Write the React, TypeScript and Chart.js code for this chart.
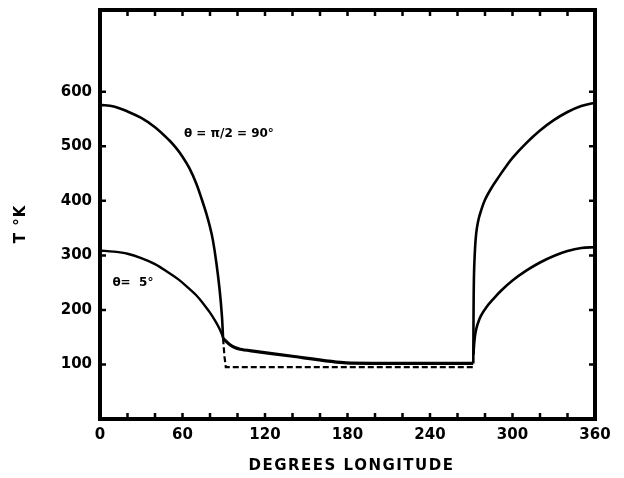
import React, { useEffect, useRef } from "react";
import { Chart, registerables } from "chart.js";

Chart.register(...registerables);

// ---- data ----
const X_TICKS = [0, 60, 120, 180, 240, 300, 360];
const X_MINOR = [20, 40, 60, 80, 100, 120, 140, 160, 180, 200, 220, 240, 260, 280, 300, 320, 340];
const Y_TICKS = [100, 200, 300, 400, 500, 600];

// theta = 90 deg, day side (left)
const UPPER_L_LON = [0, 10, 20, 30, 40, 50, 55, 60, 65, 70, 74, 77.3, 80, 82.1, 84.6, 87, 88.7, 89.5];
const UPPER_L_T = [576, 573, 564, 552, 535, 512, 498, 481, 460, 432, 403, 377, 352, 328, 287, 237, 188, 148];

// theta = 5 deg, day side (left)
const LOWER_L_LON = [0, 10, 20, 30, 40, 50, 57, 64, 70, 75, 80, 84, 87, 89.5];
const LOWER_L_T = [309, 307, 303, 295, 284, 268, 256, 241, 227, 212, 195, 179, 165, 150];

// night side, solid
const NIGHT_LON = [89.5, 91, 94, 98, 102, 110, 140, 179, 271.5];
const NIGHT_T = [148, 144, 137, 131, 128, 125, 115, 103, 102];

// night side, dashed
const DASH_LON = [89.5, 90.5, 91.5, 271.5];
const DASH_T = [148, 115, 95, 95];

// theta = 90 deg, day side (right)
const UPPER_R_LON = [271.5, 271.6, 271.75, 272, 272.5, 273.2, 274.1, 275.5, 277, 280, 285, 290, 295, 300, 310, 320, 330, 340, 350, 360];
const UPPER_R_T = [102, 160, 220, 265, 300, 330, 350, 368, 381, 402, 425, 444, 462, 479, 506, 529, 548, 563, 574, 580];

// theta = 5 deg, day side (right)
const LOWER_R_LON = [271.6, 272.2, 273, 274.5, 277, 281, 286, 292, 300, 310, 320, 330, 340, 350, 360];
const LOWER_R_T = [118, 140, 157, 173, 189, 205, 220, 236, 254, 272, 287, 299, 308, 313.5, 315];

const LABEL_90 = "θ = π/2 = 90°";
const LABEL_5 = "θ=  5°";
const X_TITLE = "DEGREES LONGITUDE";
const Y_TITLE = "T °K";

const FONT = '"DejaVu Sans", "Liberation Sans", sans-serif';

const zip = (xs: number[], ys: number[]) => xs.map((x, i) => ({ x, y: ys[i] }));

const framePlugin = {
  id: "frameAndMarks",
  afterDraw(chart: any) {
    const { ctx, chartArea, scales } = chart;
    const { left, right, top, bottom } = chartArea;
    const xs = scales.x;
    const ys = scales.y;
    ctx.save();
    ctx.strokeStyle = "#000";
    ctx.fillStyle = "#000";
    // inward tick marks
    ctx.lineWidth = 2.5;
    ctx.lineCap = "butt";
    X_MINOR.forEach((v) => {
      const px = xs.getPixelForValue(v);
      ctx.beginPath();
      ctx.moveTo(px, bottom);
      ctx.lineTo(px, bottom - 6);
      ctx.moveTo(px, top);
      ctx.lineTo(px, top + 6);
      ctx.stroke();
    });
    Y_TICKS.forEach((v) => {
      const py = ys.getPixelForValue(v);
      ctx.beginPath();
      ctx.moveTo(left, py);
      ctx.lineTo(left + 6, py);
      ctx.moveTo(right, py);
      ctx.lineTo(right - 6, py);
      ctx.stroke();
    });
    // frame
    ctx.lineWidth = 4;
    ctx.strokeRect(left, top, right - left, bottom - top);

    // curve labels
    ctx.font = `bold 12px ${FONT}`;
    ctx.textAlign = "left";
    ctx.textBaseline = "middle";
    ctx.fillText(LABEL_90, xs.getPixelForValue(61), ys.getPixelForValue(522));
    ctx.fillText(LABEL_5, xs.getPixelForValue(9), ys.getPixelForValue(250));

    // axis titles
    ctx.font = `bold 15px ${FONT}`;
    (ctx as any).letterSpacing = "1.5px";
    ctx.textAlign = "center";
    ctx.fillText(X_TITLE, (left + right) / 2 + 4, 466);
    ctx.translate(21, 224);
    ctx.rotate(-Math.PI / 2);
    (ctx as any).letterSpacing = "1px";
    ctx.fillText(Y_TITLE, 0, 0);
    ctx.restore();
  },
};

export default function App() {
  const ref = useRef<HTMLCanvasElement | null>(null);

  useEffect(() => {
    if (!ref.current) return;
    const base = {
      pointRadius: 0,
      borderColor: "#000",
      backgroundColor: "#000",
      fill: false,
      tension: 0.35,
    };
    const chart = new Chart(ref.current, {
      type: "line",
      data: {
        datasets: [
          { ...base, label: "upper-left", data: zip(UPPER_L_LON, UPPER_L_T), borderWidth: 2.6 },
          { ...base, label: "lower-left", data: zip(LOWER_L_LON, LOWER_L_T), borderWidth: 2.4 },
          { ...base, label: "night", data: zip(NIGHT_LON, NIGHT_T), borderWidth: 3.2, tension: 0.2 },
          {
            ...base,
            label: "night-dashed",
            data: zip(DASH_LON, DASH_T),
            borderWidth: 2.2,
            borderDash: [6, 3],
            tension: 0,
          },
          { ...base, label: "upper-right", data: zip(UPPER_R_LON, UPPER_R_T), borderWidth: 2.6 },
          { ...base, label: "lower-right", data: zip(LOWER_R_LON, LOWER_R_T), borderWidth: 2.6 },
        ],
      },
      options: {
        responsive: false,
        animation: false,
        events: [],
        layout: { padding: { left: 0, right: 29, top: 10, bottom: 0 } },
        plugins: {
          legend: { display: false },
          tooltip: { enabled: false },
          title: { display: false },
        },
        scales: {
          x: {
            type: "linear",
            min: 0,
            max: 360,
            afterBuildTicks: (s: any) => {
              s.ticks = X_TICKS.map((v) => ({ value: v }));
            },
            afterFit: (s: any) => {
              s.height = 59;
              s.paddingLeft = 0;
              s.paddingRight = 0;
            },
            grid: { display: false, drawTicks: false },
            border: { display: false },
            ticks: {
              color: "#000",
              padding: 7,
              maxRotation: 0,
              autoSkip: false,
              font: { family: FONT, size: 15, weight: "bold" },
            },
          },
          y: {
            type: "linear",
            min: 0,
            max: 750,
            afterBuildTicks: (s: any) => {
              s.ticks = Y_TICKS.map((v) => ({ value: v }));
            },
            afterFit: (s: any) => {
              s.width = 100;
              s.paddingTop = 0;
              s.paddingBottom = 0;
            },
            grid: { display: false, drawTicks: false },
            border: { display: false },
            ticks: {
              color: "#000",
              padding: 8,
              autoSkip: false,
              font: { family: FONT, size: 15, weight: "bold" },
            },
          },
        },
      },
      plugins: [framePlugin],
    });
    return () => chart.destroy();
  }, []);

  return (
    <div style={{ position: "fixed", left: 0, top: 0, width: 624, height: 478, background: "#fff" }}>
      <canvas ref={ref} width={624} height={478} />
    </div>
  );
}
